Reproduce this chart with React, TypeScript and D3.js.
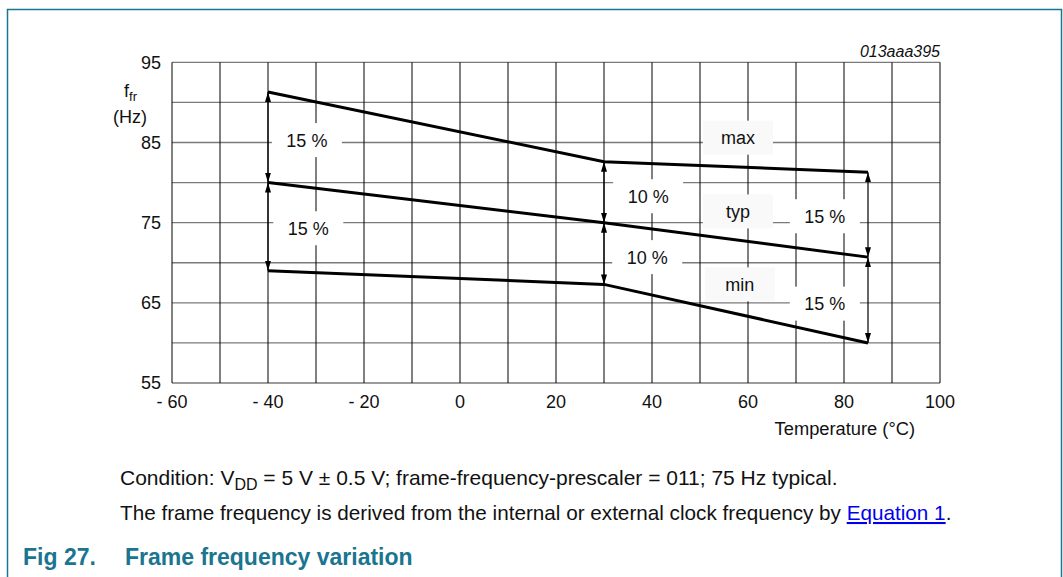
import React from "react";
import * as d3 from "d3";

// chart values
const temps = [-40, 30, 85];
const maxVals = [91.3, 82.6, 81.3];
const typVals = [80, 75, 70.7];
const minVals = [69.0, 67.3, 60.0];

const xTicks = [-60, -40, -20, 0, 20, 40, 60, 80, 100];
const xTickLabels = ["- 60", "- 40", "- 20", "0", "20", "40", "60", "80", "100"];
const yTicks = [55, 65, 75, 85, 95];

// annotation anchors in data space (temperature, frequency)
const notes = [
  { t: -31.9, f: 85.3, text: "15 %" },
  { t: -31.6, f: 74.3, text: "15 %" },
  { t: 39.2, f: 78.3, text: "10 %" },
  { t: 39.0, f: 70.7, text: "10 %" },
  { t: 57.9, f: 85.6, text: "max" },
  { t: 57.9, f: 76.4, text: "typ" },
  { t: 58.3, f: 67.3, text: "min" },
  { t: 76.0, f: 75.8, text: "15 %" },
  { t: 76.0, f: 64.9, text: "15 %" },
];

const FONT = "'Liberation Sans', Arial, sans-serif";
const TEAL = "#1a7590";

export default function App() {
  const x = d3.scaleLinear().domain([-60, 100]).range([172, 940]);
  const y = d3.scaleLinear().domain([55, 95]).range([383, 62.3]);

  const line = d3
    .line<number>()
    .x((_, i) => x(temps[i]))
    .y((v) => y(v));

  const vGrid = d3.range(-60, 101, 10);
  const hGrid = d3.range(55, 96, 5);

  return (
    <svg
      width={1063}
      height={577}
      style={{ position: "absolute", left: 0, top: 0, background: "#fff" }}
      fontFamily={FONT}
    >
      <defs>
        <marker
          id="ah"
          viewBox="0 0 10 6"
          refX={10}
          refY={3}
          markerWidth={10}
          markerHeight={6}
          markerUnits="userSpaceOnUse"
          orient="auto-start-reverse"
        >
          <path d="M0,0L10,3L0,6Z" fill="#000" />
        </marker>
      </defs>

      {/* frame */}
      <path d="M7.5,577V9.5H1061.5V577" fill="none" stroke={TEAL} strokeWidth={1.5} />

      {/* grid */}
      {hGrid.map((v) => (
        <line key={"h" + v} x1={x(-60)} x2={x(100)} y1={y(v)} y2={y(v)} stroke="#7a7a7a" strokeWidth={1.3} />
      ))}
      {vGrid.map((v) => (
        <line key={"v" + v} x1={x(v)} x2={x(v)} y1={y(95)} y2={y(55)} stroke="#000" strokeWidth={1} />
      ))}

      {/* label boxes */}
      {notes.map((n, i) => (
        <rect key={"b" + i} x={x(n.t) - 35} y={y(n.f) - 17} width={70} height={34}
          fill={n.text.includes("%") ? "#fff" : "#f9f9f9"} />
      ))}
      {notes.map((n, i) => (
        <text key={"t" + i} x={x(n.t)} y={y(n.f)} dy="0.36em" textAnchor="middle" fontSize={18} fill="#111">
          {n.text}
        </text>
      ))}

      {/* curves */}
      {[maxVals, typVals, minVals].map((s, i) => (
        <path key={"c" + i} d={line(s) || ""} fill="none" stroke="#000" strokeWidth={3} />
      ))}

      {/* spread arrows */}
      {temps.map((t, i) => (
        <g key={"a" + i}>
          <line x1={x(t)} x2={x(t)} y1={y(maxVals[i])} y2={y(typVals[i])} stroke="#000" strokeWidth={1.2}
            markerStart="url(#ah)" markerEnd="url(#ah)" />
          <line x1={x(t)} x2={x(t)} y1={y(typVals[i])} y2={y(minVals[i])} stroke="#000" strokeWidth={1.2}
            markerStart="url(#ah)" markerEnd="url(#ah)" />
        </g>
      ))}

      {/* axes labels */}
      {xTicks.map((v, i) => (
        <text key={"xt" + v} x={x(v)} y={408} textAnchor="middle" fontSize={18} fill="#111">
          {xTickLabels[i]}
        </text>
      ))}
      {yTicks.map((v) => (
        <text key={"yt" + v} x={161} y={y(v)} dy="0.36em" textAnchor="end" fontSize={18} fill="#111">
          {v}
        </text>
      ))}
      <text x={124} y={97} fontSize={18} fill="#111">
        f<tspan fontSize={13} dy={4}>fr</tspan>
      </text>
      <text x={130} y={123} textAnchor="middle" fontSize={18} fill="#111">(Hz)</text>
      <text x={915} y={435} textAnchor="end" fontSize={18.3} fill="#111">Temperature (°C)</text>
      <text x={940} y={57} textAnchor="end" fontSize={16} fontStyle="italic" fill="#111">013aaa395</text>

      {/* notes below the chart */}
      <text x={120} y={485} fontSize={21} fill="#111">
        Condition: V<tspan fontSize={16} dy={5}>DD</tspan>
        <tspan dy={-5}> = 5 V ± 0.5 V; frame-frequency-prescaler = 011; 75 Hz typical.</tspan>
      </text>
      <text x={120} y={520} fontSize={20.7} fill="#111">
        The frame frequency is derived from the internal or external clock frequency by{" "}
        <tspan fill="#0000ee" textDecoration="underline">Equation 1</tspan>.
      </text>
      <text x={23} y={565} fontSize={23} fontWeight="bold" fill={TEAL}>Fig 27.</text>
      <text x={125} y={565} fontSize={23} fontWeight="bold" fill={TEAL}>Frame frequency variation</text>
    </svg>
  );
}
